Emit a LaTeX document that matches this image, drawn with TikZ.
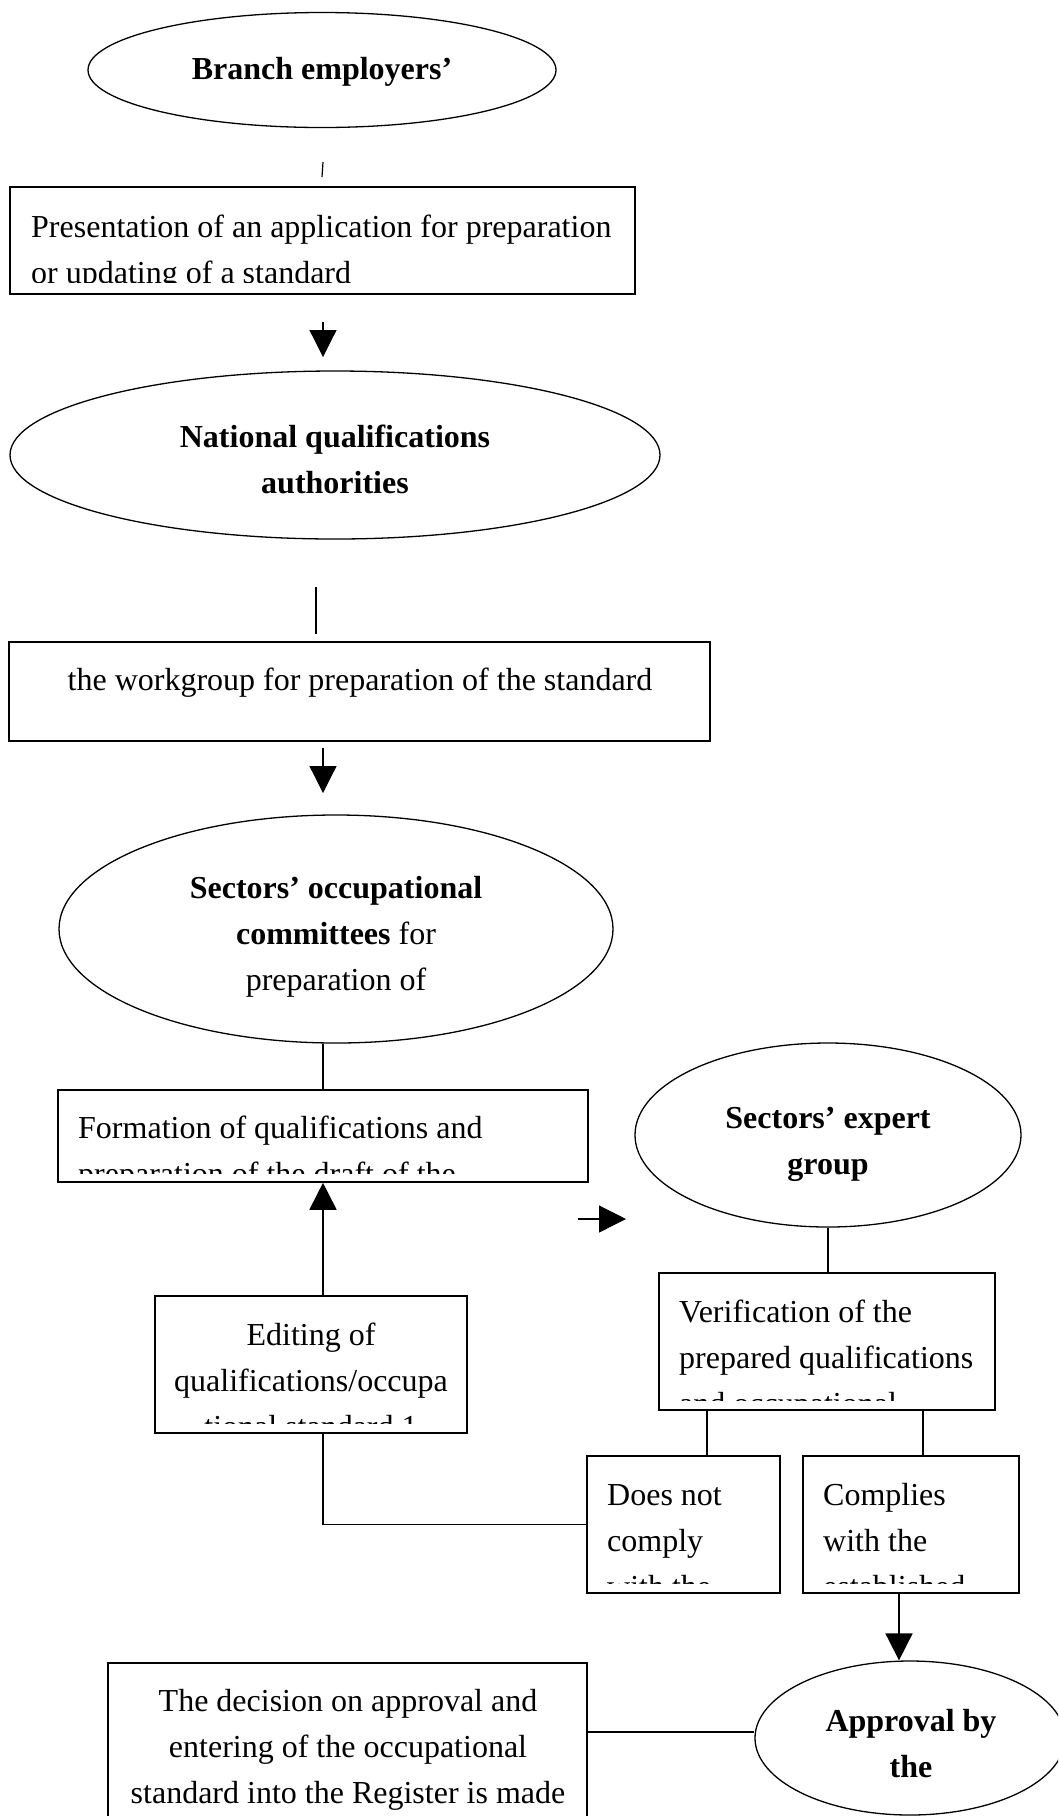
\documentclass[tikz,border=0pt]{standalone}
\usepackage{fontspec}
\setmainfont{Liberation Serif}
\usetikzlibrary{shapes.geometric,arrows.meta}

\begin{document}
\begin{tikzpicture}[x=1pt,y=-1pt,
  boxshape/.style={draw, rectangle, line width=1.6pt, inner sep=0pt},
  oval/.style={draw, ellipse, line width=1.3pt, inner sep=0pt},
  link/.style={line width=1.2pt},
  flow/.style={line width=1.2pt, -{Triangle[length=27pt,width=27pt]}},
  flowthick/.style={line width=1.8pt, -{Triangle[length=27pt,width=27pt]}},
  txt/.style={inner sep=0pt, font=\fontsize{32pt}{46pt}\selectfont},
]
\useasboundingbox (0,0) rectangle (1058,1816);
\clip (0,0) rectangle (1058,1816);
\fill[white] (0,0) rectangle (1058,1816);

% ---- employers
\node[oval, minimum width=468pt, minimum height=115pt] (emp) at (322,70) {};
\node[txt, anchor=base] (empT) at (322,79) {\bfseries Branch employers’};

\coordinate (tickA) at (323,162);
\coordinate (tickB) at (322,177);
\draw[link] (tickA) -- (tickB);

% ---- application
\node[boxshape, minimum width=625pt, minimum height=107pt] (pres) at (322.5,240.5) {};
\begin{scope}
  \clip (10,187) rectangle (635,282);
  \node[txt, anchor=base west] (presT) at (31,237)
    {\begin{tabular}[t]{@{}l@{}}Presentation of an application for preparation\\ or updating of a standard\end{tabular}};
\end{scope}

\coordinate (a1s) at (323,322);
\coordinate (a1e) at (323,357);
\draw[flow] (a1s) -- (a1e);

% ---- national authorities
\node[oval, minimum width=650pt, minimum height=168pt] (nat) at (335,455) {};
\node[txt, anchor=base] (natT) at (335,447)
  {\bfseries\begin{tabular}[t]{@{}c@{}}National qualifications\\ authorities\end{tabular}};

\coordinate (l2a) at (316,587);
\coordinate (l2b) at (316,634);
\draw[link] (l2a) -- (l2b);

% ---- workgroup
\node[boxshape, minimum width=701pt, minimum height=99pt] (wg) at (359.5,691.5) {};
\node[txt, anchor=base] (wgT) at (360,690) {the workgroup for preparation of the standard};

\coordinate (a2s) at (323,748);
\coordinate (a2e) at (323,793);
\draw[flow] (a2s) -- (a2e);

% ---- occupational committees
\node[oval, minimum width=554pt, minimum height=228pt] (soc) at (336,929) {};
\node[txt, anchor=base] (socT) at (336,898)
  {\begin{tabular}[t]{@{}c@{}}\textbf{Sectors’ occupational}\\ \textbf{committees} for\\ preparation of\end{tabular}};

% ---- formation of qualifications
\node[boxshape, minimum width=530pt, minimum height=92pt] (form) at (323,1136) {};
\begin{scope}
  \clip (58,1090) rectangle (588,1173);
  \node[txt, anchor=base west] (formT) at (78,1138)
    {\begin{tabular}[t]{@{}l@{}}Formation of qualifications and\\ preparation of the draft of the\end{tabular}};
\end{scope}
\draw[link] ([xshift=-13pt]soc.south) -- (form.north);

% ---- expert group
\node[oval, minimum width=386pt, minimum height=184pt] (exp) at (828,1135) {};
\node[txt, anchor=base] (expT) at (828,1128)
  {\bfseries\begin{tabular}[t]{@{}c@{}}Sectors’ expert\\ group\end{tabular}};

\coordinate (sa) at (578,1219);
\coordinate (sb) at (626,1219);
\draw[flow] (sa) -- (sb);

% ---- verification
\node[boxshape, minimum width=336pt, minimum height=137pt] (ver) at (827,1341.5) {};
\begin{scope}
  \clip (659,1273) rectangle (995,1400);
  \node[txt, anchor=base west] (verT) at (679,1322)
    {\begin{tabular}[t]{@{}l@{}}Verification of the\\ prepared qualifications\\ and occupational\end{tabular}};
\end{scope}
\draw[link] (exp.south) -- (exp.south |- ver.north);

% ---- editing
\node[boxshape, minimum width=312pt, minimum height=137pt] (edit) at (311,1364.5) {};
\begin{scope}
  \clip (155,1296) rectangle (467,1423);
  \node[txt, anchor=base] (editT) at (311,1345)
    {\begin{tabular}[t]{@{}c@{}}Editing of\\ qualifications/occupa\\ tional standard 1\end{tabular}};
\end{scope}
\draw[flowthick] ([xshift=12pt]edit.north) -- (form.south);

% ---- outcomes
\node[boxshape, minimum width=193pt, minimum height=137pt] (dn) at (683.5,1524.5) {};
\node[boxshape, minimum width=216pt, minimum height=137pt] (cp) at (911,1524.5) {};
\begin{scope}
  \clip (587,1456) rectangle (780,1583);
  \node[txt, anchor=base west] (dnT) at (607,1505)
    {\begin{tabular}[t]{@{}l@{}}Does not\\ comply\\ with the\end{tabular}};
\end{scope}
\begin{scope}
  \clip (803,1456) rectangle (1019,1583);
  \node[txt, anchor=base west] (cpT) at (823,1505)
    {\begin{tabular}[t]{@{}l@{}}Complies\\ with the\\ established\end{tabular}};
\end{scope}
\draw[link] ([xshift=-120pt]ver.south) -- ([xshift=-120pt]ver.south |- dn.north);
\draw[link] ([xshift=96pt]ver.south) -- ([xshift=96pt]ver.south |- cp.north);
\draw[link] ([xshift=12pt]edit.south) |- (dn.west);

% ---- approval
\node[oval, minimum width=310pt, minimum height=154pt] (appr) at (910,1738) {};
\node[txt, anchor=base] (apprT) at (911,1731)
  {\bfseries\begin{tabular}[t]{@{}c@{}}Approval by\\ the\end{tabular}};
\draw[flowthick] ([xshift=-12pt]cp.south) -- ([xshift=-11pt]appr.north);

% ---- decision
\node[boxshape, minimum width=479pt, minimum height=220pt] (dec) at (347.5,1773) {};
\node[txt, anchor=base] (decT) at (348,1711)
  {\begin{tabular}[t]{@{}c@{}}The decision on approval and\\ entering of the occupational\\ standard into the Register is made\end{tabular}};
\coordinate (hy) at (0,1732);
\draw[link] (dec.east |- hy) -- (appr.west |- hy);
\end{tikzpicture}
\end{document}
